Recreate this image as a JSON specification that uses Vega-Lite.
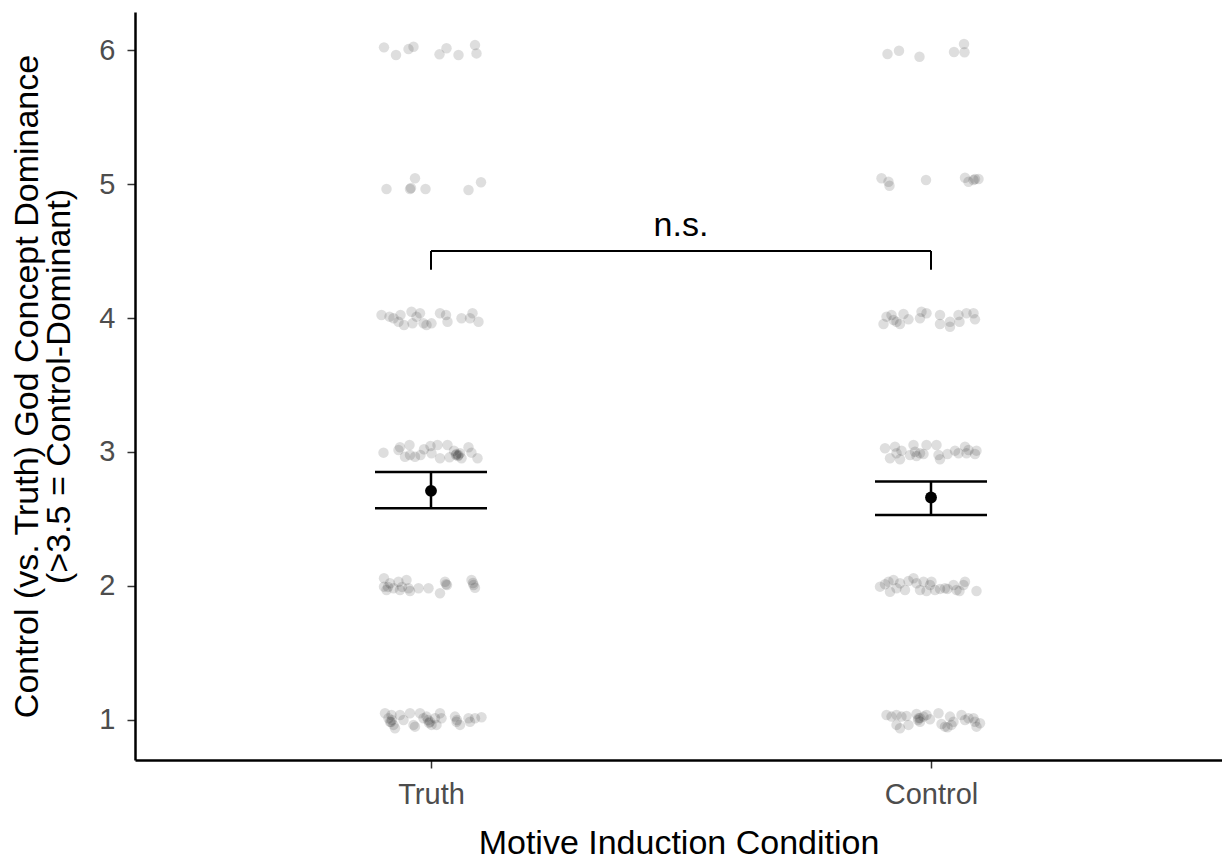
{
  "$schema": "https://vega.github.io/schema/vega-lite/v6.json",
  "width": 1087,
  "height": 748,
  "autosize": {"type": "none"},
  "padding": {"left": 135, "top": 12, "right": 0, "bottom": 103},
  "background": "white",
  "config": {
    "view": {"stroke": null},
    "font": "Liberation Sans",
    "axis": {
      "grid": false,
      "domainColor": "black",
      "domainWidth": 2.5,
      "tickColor": "#333333",
      "tickWidth": 1.5,
      "tickSize": 8,
      "labelColor": "#4d4d4d",
      "labelFont": "Liberation Sans",
      "labelFontSize": 29,
      "titleFont": "Liberation Sans",
      "titleFontSize": 34,
      "titleFontWeight": "normal",
      "titleColor": "black"
    }
  },
  "datasets": {
    "pts": [
      {"cond":"Truth","x":0.906,"y":6.020},{"cond":"Truth","x":0.930,"y":5.963},{"cond":"Truth","x":0.955,"y":6.007},{"cond":"Truth","x":0.965,"y":6.025},{"cond":"Truth","x":1.017,"y":5.968},{"cond":"Truth","x":1.031,"y":6.013},{"cond":"Truth","x":1.055,"y":5.963},{"cond":"Truth","x":1.088,"y":6.037},{"cond":"Truth","x":1.091,"y":5.975},
      {"cond":"Control","x":1.913,"y":5.970},{"cond":"Control","x":1.936,"y":5.995},{"cond":"Control","x":1.977,"y":5.950},{"cond":"Control","x":2.046,"y":5.985},{"cond":"Control","x":2.066,"y":6.045},{"cond":"Control","x":2.067,"y":5.983},
      {"cond":"Truth","x":0.911,"y":4.963},{"cond":"Truth","x":0.958,"y":4.963},{"cond":"Truth","x":0.960,"y":4.970},{"cond":"Truth","x":0.968,"y":5.043},{"cond":"Truth","x":0.989,"y":4.963},{"cond":"Truth","x":1.075,"y":4.955},{"cond":"Truth","x":1.100,"y":5.013},
      {"cond":"Control","x":1.901,"y":5.043},{"cond":"Control","x":1.915,"y":5.017},{"cond":"Control","x":1.917,"y":4.987},{"cond":"Control","x":1.990,"y":5.030},{"cond":"Control","x":2.068,"y":5.047},{"cond":"Control","x":2.075,"y":5.017},{"cond":"Control","x":2.085,"y":5.030},{"cond":"Control","x":2.088,"y":5.037},{"cond":"Control","x":2.095,"y":5.037},
      {"cond":"Truth","x":0.901,"y":4.022},{"cond":"Truth","x":0.917,"y":4.010},{"cond":"Truth","x":0.925,"y":3.998},{"cond":"Truth","x":0.935,"y":3.972},{"cond":"Truth","x":0.939,"y":4.022},{"cond":"Truth","x":0.946,"y":3.948},{"cond":"Truth","x":0.961,"y":4.047},{"cond":"Truth","x":0.963,"y":3.960},{"cond":"Truth","x":0.971,"y":4.010},{"cond":"Truth","x":0.978,"y":4.035},{"cond":"Truth","x":0.985,"y":3.960},{"cond":"Truth","x":0.991,"y":3.948},{"cond":"Truth","x":1.001,"y":3.960},{"cond":"Truth","x":1.018,"y":4.035},{"cond":"Truth","x":1.030,"y":4.022},{"cond":"Truth","x":1.033,"y":3.972},{"cond":"Truth","x":1.061,"y":3.998},{"cond":"Truth","x":1.078,"y":3.998},{"cond":"Truth","x":1.083,"y":4.035},{"cond":"Truth","x":1.095,"y":3.972},
      {"cond":"Control","x":1.905,"y":3.955},{"cond":"Control","x":1.911,"y":4.010},{"cond":"Control","x":1.921,"y":4.022},{"cond":"Control","x":1.925,"y":3.985},{"cond":"Control","x":1.931,"y":3.972},{"cond":"Control","x":1.938,"y":3.955},{"cond":"Control","x":1.945,"y":4.030},{"cond":"Control","x":1.955,"y":3.990},{"cond":"Control","x":1.978,"y":3.998},{"cond":"Control","x":1.981,"y":4.047},{"cond":"Control","x":1.991,"y":4.035},{"cond":"Control","x":2.018,"y":4.022},{"cond":"Control","x":2.018,"y":3.955},{"cond":"Control","x":2.038,"y":3.972},{"cond":"Control","x":2.038,"y":3.935},{"cond":"Control","x":2.055,"y":4.022},{"cond":"Control","x":2.057,"y":3.972},{"cond":"Control","x":2.071,"y":4.035},{"cond":"Control","x":2.085,"y":4.035},{"cond":"Control","x":2.088,"y":3.990},
      {"cond":"Truth","x":0.905,"y":2.995},{"cond":"Truth","x":0.935,"y":3.015},{"cond":"Truth","x":0.938,"y":3.035},{"cond":"Truth","x":0.948,"y":2.965},{"cond":"Truth","x":0.957,"y":3.052},{"cond":"Truth","x":0.958,"y":2.978},{"cond":"Truth","x":0.968,"y":2.965},{"cond":"Truth","x":0.979,"y":2.978},{"cond":"Truth","x":0.986,"y":3.020},{"cond":"Truth","x":0.999,"y":3.045},{"cond":"Truth","x":1.001,"y":2.990},{"cond":"Truth","x":1.013,"y":3.052},{"cond":"Truth","x":1.018,"y":2.953},{"cond":"Truth","x":1.033,"y":3.052},{"cond":"Truth","x":1.037,"y":2.960},{"cond":"Truth","x":1.046,"y":3.010},{"cond":"Truth","x":1.051,"y":2.985},{"cond":"Truth","x":1.055,"y":2.978},{"cond":"Truth","x":1.058,"y":2.990},{"cond":"Truth","x":1.061,"y":2.953},{"cond":"Truth","x":1.075,"y":3.035},{"cond":"Truth","x":1.081,"y":2.995},{"cond":"Truth","x":1.093,"y":2.953},{"cond":"Truth","x":1.050,"y":2.978},{"cond":"Truth","x":1.054,"y":2.970},
      {"cond":"Control","x":1.908,"y":3.028},{"cond":"Control","x":1.918,"y":2.953},{"cond":"Control","x":1.928,"y":3.040},{"cond":"Control","x":1.931,"y":2.990},{"cond":"Control","x":1.938,"y":2.946},{"cond":"Control","x":1.941,"y":3.010},{"cond":"Control","x":1.958,"y":2.978},{"cond":"Control","x":1.965,"y":3.052},{"cond":"Control","x":1.968,"y":3.002},{"cond":"Control","x":1.971,"y":2.970},{"cond":"Control","x":1.978,"y":2.990},{"cond":"Control","x":1.985,"y":2.985},{"cond":"Control","x":1.991,"y":3.052},{"cond":"Control","x":2.011,"y":3.052},{"cond":"Control","x":2.015,"y":2.978},{"cond":"Control","x":2.018,"y":2.946},{"cond":"Control","x":2.033,"y":2.985},{"cond":"Control","x":2.048,"y":3.010},{"cond":"Control","x":2.055,"y":2.990},{"cond":"Control","x":2.068,"y":3.040},{"cond":"Control","x":2.071,"y":2.990},{"cond":"Control","x":2.075,"y":3.015},{"cond":"Control","x":2.088,"y":2.985},{"cond":"Control","x":2.091,"y":3.010},
      {"cond":"Truth","x":0.906,"y":2.057},{"cond":"Truth","x":0.906,"y":1.995},{"cond":"Truth","x":0.911,"y":1.970},{"cond":"Truth","x":0.918,"y":2.020},{"cond":"Truth","x":0.925,"y":1.983},{"cond":"Truth","x":0.935,"y":2.032},{"cond":"Truth","x":0.938,"y":1.970},{"cond":"Truth","x":0.951,"y":2.045},{"cond":"Truth","x":0.955,"y":1.983},{"cond":"Truth","x":0.958,"y":1.963},{"cond":"Truth","x":0.975,"y":1.983},{"cond":"Truth","x":0.995,"y":1.983},{"cond":"Truth","x":1.018,"y":1.946},{"cond":"Truth","x":1.028,"y":2.032},{"cond":"Truth","x":1.030,"y":2.013},{"cond":"Truth","x":1.081,"y":2.045},{"cond":"Truth","x":1.085,"y":2.007},{"cond":"Truth","x":1.088,"y":1.987},{"cond":"Truth","x":0.914,"y":1.993},{"cond":"Truth","x":0.942,"y":1.993},{"cond":"Truth","x":1.032,"y":2.007},{"cond":"Truth","x":1.084,"y":2.022},
      {"cond":"Control","x":1.898,"y":1.995},{"cond":"Control","x":1.908,"y":2.013},{"cond":"Control","x":1.915,"y":2.032},{"cond":"Control","x":1.918,"y":1.957},{"cond":"Control","x":1.925,"y":2.045},{"cond":"Control","x":1.931,"y":1.983},{"cond":"Control","x":1.938,"y":2.020},{"cond":"Control","x":1.948,"y":1.970},{"cond":"Control","x":1.955,"y":2.037},{"cond":"Control","x":1.965,"y":2.057},{"cond":"Control","x":1.971,"y":2.020},{"cond":"Control","x":1.978,"y":1.970},{"cond":"Control","x":1.985,"y":2.032},{"cond":"Control","x":1.991,"y":1.963},{"cond":"Control","x":1.998,"y":2.007},{"cond":"Control","x":2.001,"y":2.032},{"cond":"Control","x":2.008,"y":1.970},{"cond":"Control","x":2.018,"y":1.978},{"cond":"Control","x":2.028,"y":1.983},{"cond":"Control","x":2.033,"y":1.978},{"cond":"Control","x":2.045,"y":2.007},{"cond":"Control","x":2.051,"y":1.970},{"cond":"Control","x":2.057,"y":1.963},{"cond":"Control","x":2.068,"y":2.032},{"cond":"Control","x":2.065,"y":2.007},{"cond":"Control","x":2.091,"y":1.963},
      {"cond":"Truth","x":0.908,"y":1.050},{"cond":"Truth","x":0.915,"y":1.013},{"cond":"Truth","x":0.918,"y":0.987},{"cond":"Truth","x":0.921,"y":1.037},{"cond":"Truth","x":0.925,"y":0.963},{"cond":"Truth","x":0.928,"y":0.938},{"cond":"Truth","x":0.938,"y":1.037},{"cond":"Truth","x":0.945,"y":1.000},{"cond":"Truth","x":0.958,"y":1.050},{"cond":"Truth","x":0.965,"y":0.963},{"cond":"Truth","x":0.968,"y":0.950},{"cond":"Truth","x":0.978,"y":1.050},{"cond":"Truth","x":0.985,"y":1.013},{"cond":"Truth","x":0.991,"y":1.025},{"cond":"Truth","x":0.998,"y":0.987},{"cond":"Truth","x":1.001,"y":0.963},{"cond":"Truth","x":1.008,"y":1.013},{"cond":"Truth","x":1.011,"y":0.963},{"cond":"Truth","x":1.018,"y":1.050},{"cond":"Truth","x":1.021,"y":1.013},{"cond":"Truth","x":1.048,"y":1.025},{"cond":"Truth","x":1.051,"y":0.987},{"cond":"Truth","x":1.058,"y":0.963},{"cond":"Truth","x":1.075,"y":1.013},{"cond":"Truth","x":1.078,"y":0.987},{"cond":"Truth","x":1.088,"y":1.013},{"cond":"Truth","x":1.101,"y":1.020},{"cond":"Truth","x":0.922,"y":1.000},{"cond":"Truth","x":0.994,"y":1.000},{"cond":"Truth","x":1.052,"y":1.000},{"cond":"Truth","x":0.920,"y":0.985},{"cond":"Truth","x":0.996,"y":0.978},
      {"cond":"Control","x":1.911,"y":1.037},{"cond":"Control","x":1.921,"y":1.025},{"cond":"Control","x":1.931,"y":1.037},{"cond":"Control","x":1.931,"y":0.963},{"cond":"Control","x":1.938,"y":0.938},{"cond":"Control","x":1.941,"y":1.025},{"cond":"Control","x":1.951,"y":1.030},{"cond":"Control","x":1.955,"y":0.963},{"cond":"Control","x":1.971,"y":1.045},{"cond":"Control","x":1.975,"y":1.013},{"cond":"Control","x":1.978,"y":0.987},{"cond":"Control","x":1.985,"y":1.025},{"cond":"Control","x":1.991,"y":1.037},{"cond":"Control","x":1.998,"y":1.005},{"cond":"Control","x":2.015,"y":1.050},{"cond":"Control","x":2.021,"y":0.970},{"cond":"Control","x":2.028,"y":0.950},{"cond":"Control","x":2.033,"y":0.946},{"cond":"Control","x":2.038,"y":1.025},{"cond":"Control","x":2.041,"y":0.963},{"cond":"Control","x":2.045,"y":0.987},{"cond":"Control","x":2.061,"y":1.037},{"cond":"Control","x":2.068,"y":1.000},{"cond":"Control","x":2.075,"y":1.013},{"cond":"Control","x":2.085,"y":1.013},{"cond":"Control","x":2.088,"y":0.987},{"cond":"Control","x":2.091,"y":0.950},{"cond":"Control","x":2.098,"y":0.975},{"cond":"Control","x":1.974,"y":1.000},{"cond":"Control","x":1.978,"y":1.015}
    ],
    "summary": [
      {"cond":"Truth","x":1,"y":2.71,"lo":2.58,"hi":2.85},
      {"cond":"Control","x":2,"y":2.66,"lo":2.53,"hi":2.78}
    ],
    "bracket": [
      {"x":1,"x2":2,"y":4.5,"y2":4.5},
      {"x":1,"x2":1,"y":4.36,"y2":4.5},
      {"x":2,"x2":2,"y":4.36,"y2":4.5}
    ],
    "label": [
      {"x":1.5,"y":4.69,"text":"n.s."}
    ]
  },
  "layer": [
    {
      "data": {"name": "pts"},
      "mark": {"type": "circle", "size": 110, "color": "black", "opacity": 0.13, "strokeWidth": 0},
      "encoding": {
        "x": {"field": "x", "type": "quantitative",
              "scale": {"domain": [0.408, 2.582], "nice": false, "zero": false},
              "axis": {"title": "Motive Induction Condition", "values": [1, 2], "labelExpr": "datum.value == 1 ? 'Truth' : 'Control'", "labelPadding": 12, "titlePadding": 17, "labelFlush": false}},
        "y": {"field": "y", "type": "quantitative",
              "scale": {"domain": [0.701, 6.284], "nice": false, "zero": false},
              "axis": {"title": ["Control (vs. Truth) God Concept Dominance", "(>3.5 = Control-Dominant)"], "values": [1, 2, 3, 4, 5, 6], "format": "d", "labelPadding": 12, "titlePadding": 22, "titleLineHeight": 32, "labelFlush": false}}
      }
    },
    {
      "data": {"name": "summary"},
      "mark": {"type": "rule", "color": "black", "strokeWidth": 2.5},
      "encoding": {
        "x": {"field": "x", "type": "quantitative"},
        "y": {"field": "lo", "type": "quantitative"},
        "y2": {"field": "hi"}
      }
    },
    {
      "data": {"name": "summary"},
      "mark": {"type": "tick", "orient": "horizontal", "color": "black", "size": 112, "thickness": 2.5, "opacity": 1},
      "encoding": {
        "x": {"field": "x", "type": "quantitative"},
        "y": {"field": "lo", "type": "quantitative"}
      }
    },
    {
      "data": {"name": "summary"},
      "mark": {"type": "tick", "orient": "horizontal", "color": "black", "size": 112, "thickness": 2.5, "opacity": 1},
      "encoding": {
        "x": {"field": "x", "type": "quantitative"},
        "y": {"field": "hi", "type": "quantitative"}
      }
    },
    {
      "data": {"name": "summary"},
      "mark": {"type": "circle", "size": 140, "color": "black", "opacity": 1},
      "encoding": {
        "x": {"field": "x", "type": "quantitative"},
        "y": {"field": "y", "type": "quantitative"}
      }
    },
    {
      "data": {"name": "bracket"},
      "mark": {"type": "rule", "color": "black", "strokeWidth": 2},
      "encoding": {
        "x": {"field": "x", "type": "quantitative"},
        "x2": {"field": "x2"},
        "y": {"field": "y", "type": "quantitative"},
        "y2": {"field": "y2"}
      }
    },
    {
      "data": {"name": "label"},
      "mark": {"type": "text", "fontSize": 34, "font": "Liberation Sans", "color": "black", "baseline": "middle", "align": "center"},
      "encoding": {
        "x": {"field": "x", "type": "quantitative"},
        "y": {"field": "y", "type": "quantitative"},
        "text": {"field": "text"}
      }
    }
  ]
}
